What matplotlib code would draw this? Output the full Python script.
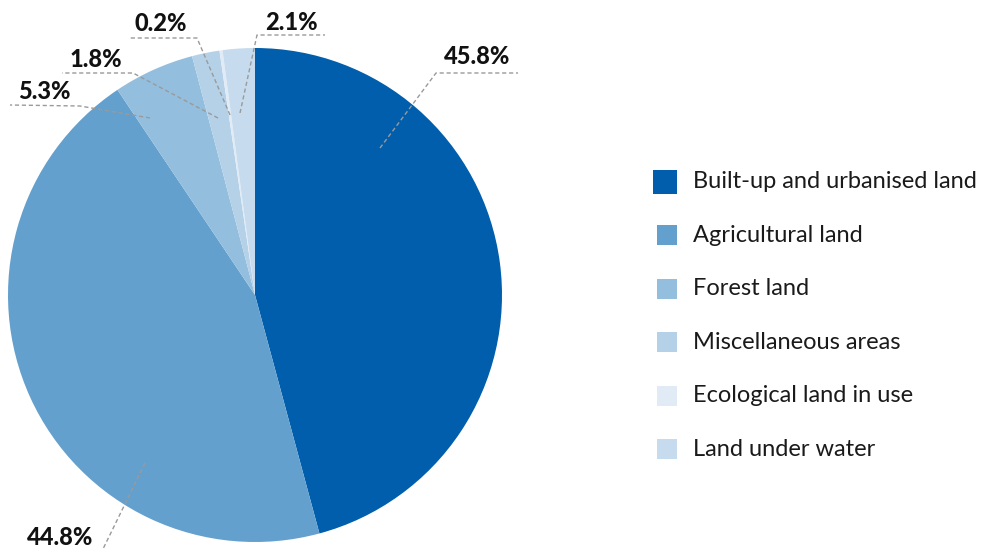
import matplotlib.pyplot as plt
from matplotlib.patches import Rectangle

categories = [
    "Built-up and urbanised land",
    "Agricultural land",
    "Forest land",
    "Miscellaneous areas",
    "Ecological land in use",
    "Land under water",
]
shares = [45.8, 44.8, 5.3, 1.8, 0.2, 2.1]
pct_labels = ["45.8%", "44.8%", "5.3%", "1.8%", "0.2%", "2.1%"]
colors = ["#005eac", "#64a0cd", "#94bedd", "#b4d1e8", "#e1ebf6", "#c6dcee"]

# leader line layout in pixel coords (y from top): anchor, elbow, end of underline, text x/y
leaders = [
    ((380, 148), (436, 73), (518, 73), (477, 68)),
    ((145, 463), (103, 549), (103, 549), (60, 549)),
    ((150, 118), (80, 106), (10, 105), (44, 103)),
    ((218, 118), (133, 73), (62, 73), (96, 71)),
    ((230, 115), (197, 38), (128, 38), (161, 35)),
    ((240, 113), (257, 35), (325, 35), (291, 34)),
]

W, H = 984, 549
fig = plt.figure(figsize=(W / 100, H / 100), dpi=100)
ax = fig.add_axes([0, 0, 1, 1])

ax.pie(shares, colors=colors, startangle=90, counterclock=False,
       center=(255, H - 295), radius=247, frame=True,
       wedgeprops=dict(linewidth=0))
ax.set_xlim(0, W)
ax.set_ylim(0, H)
ax.set_aspect("equal")
ax.axis("off")

for lab, (a, e, f, t) in zip(pct_labels, leaders):
    xs = [a[0], e[0], f[0]]
    ys = [H - a[1], H - e[1], H - f[1]]
    ax.plot(xs, ys, color="#9a9a9a", lw=1, ls=(0, (3, 2)), clip_on=False)
    ax.text(t[0], H - t[1], lab, ha="center", va="bottom", fontsize=17,
            fontweight=900, family="Lato", color="#111111")

# legend
for i, (cat, col) in enumerate(zip(categories, colors)):
    yc = H - (182 + i * 53.4)
    s = 24 if i == 0 else 20
    ax.add_patch(Rectangle((677 - s, yc - s / 2), s, s, color=col, lw=0))
    ax.text(693, yc, cat, ha="left", va="center", fontsize=17,
            family="Lato", color="#1a1a1a")

fig.savefig("out.png", dpi=100)
